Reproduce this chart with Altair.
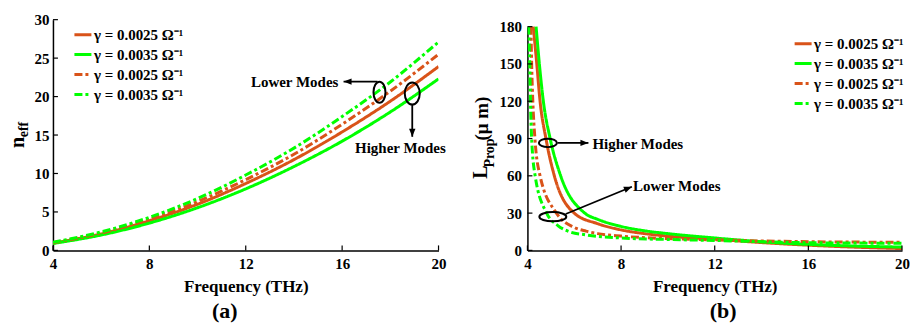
import altair as alt
import pandas as pd

ORANGE = "#D95319"
GREEN = "#00FF00"
FONT = "Times New Roman, Liberation Serif, serif"

# ---- series definitions ----
series_keys = ["s1", "s2", "s3", "s4"]
series_labels = ["γ = 0.0025 Ω⁻¹", "γ = 0.0035 Ω⁻¹", "γ = 0.0025 Ω⁻¹", "γ = 0.0035 Ω⁻¹"]
series_colors = [ORANGE, GREEN, ORANGE, GREEN]
series_dash = [[1, 0], [1, 0], [8, 3, 3, 3], [8, 3, 3, 3]]

# ---- panel (a): n_eff vs frequency ----
freq_a = [4, 6, 8, 10, 12, 14, 16, 18, 20]
neff_s1 = [0.95, 2.15, 3.85, 6.0, 8.7, 11.8, 15.4, 19.4, 23.9]
neff_s2 = [0.9, 2.0, 3.55, 5.55, 8.0, 10.9, 14.2, 18.0, 22.3]
neff_s3 = [1.0, 2.25, 4.05, 6.35, 9.2, 12.5, 16.4, 20.7, 25.5]
neff_s4 = [1.05, 2.4, 4.3, 6.75, 9.8, 13.3, 17.4, 21.9, 27.1]

# ---- panel (b): L_prop vs frequency ----
freq_b_s1 = [4.25, 4.40, 4.54, 4.79, 5.15, 6.0, 7.0, 8.0, 9.0, 10, 12, 14, 16, 18, 20]
lprop_s1 = [180, 150, 120, 90, 60, 30, 21.5, 16.5, 13.5, 11.5, 9.0, 6.3, 4.2, 2.6, 1.5]
freq_b_s2 = [4.37, 4.51, 4.68, 4.97, 5.42, 6.45, 7.0, 8.0, 9.0, 10, 12, 14, 16, 18, 20]
lprop_s2 = [180, 150, 120, 90, 60, 30, 25, 19.3, 15.8, 13.5, 10.0, 7.0, 4.8, 3.5, 2.7]
freq_b_s3 = [4.15, 4.18, 4.23, 4.32, 4.54, 5.24, 6.0, 6.5, 7.0, 8.0, 10, 12, 14, 16, 18, 20]
lprop_s3 = [180, 150, 120, 90, 60, 30, 18.5, 15.5, 13.5, 11.5, 9.5, 8.5, 7.6, 7.0, 6.7, 6.5]
freq_b_s4 = [4.05, 4.10, 4.13, 4.18, 4.33, 4.82, 5.3, 5.8, 6.5, 8.0, 10, 12, 14, 16, 18, 20]
lprop_s4 = [180, 150, 120, 90, 60, 30, 20, 15, 12.5, 10, 8.8, 8.0, 7.0, 6.2, 5.9, 5.8]

# ---- annotations (data coordinates) ----
ann_a_text = ["Lower Modes", "Higher Modes"]
ann_a_text_f = [14.03, 18.42]
ann_a_text_v = [21.86, 13.29]
ell_a_f = [17.55, 18.91]
ell_a_v = [20.56, 20.39]
arr_a_f1 = [17.47, 18.91]
arr_a_v1 = [21.95, 18.96]
arr_a_f2 = [16.06, 18.91]
arr_a_v2 = [21.95, 14.77]

ann_b_text = ["Higher Modes", "Lower Modes"]
ann_b_text_f = [8.715, 10.38]
ann_b_text_v = [85.2, 52.2]
ell_b_f = [4.874, 5.085]
ell_b_v = [86.5, 27.1]
arr_b_f1 = [5.283, 5.634]
arr_b_v1 = [86.5, 29.3]
arr_b_f2 = [6.605, 8.462]
arr_b_v2 = [86.5, 51.2]

# ---- styling helpers ----
def ellipse_path(w, h):
    if h >= w:
        rx, ry = w / h, 1.0
    else:
        rx, ry = 1.0, h / w
    return (f"M{-rx},0A{rx},{ry} 0 1,0 {rx},0A{rx},{ry} 0 1,0 {-rx},0Z",
            max(w, h) ** 2)

ARROW = "M0,0L-0.8,2L0.8,2Z"

label_expr = ""
for k, lab in zip(series_keys[:-1], series_labels[:-1]):
    label_expr += f"datum.label == '{k}' ? '{lab}' : "
label_expr += f"'{series_labels[-1]}'"


def legend(x, y):
    return alt.Legend(orient="none", legendX=x, legendY=y, title=None,
                      symbolType="stroke", symbolSize=289, symbolStrokeWidth=3,
                      labelFont=FONT, labelFontSize=15, labelFontWeight="bold",
                      labelColor="black", labelOffset=1, rowPadding=2,
                      padding=0, labelExpr=label_expr)


def build_panel(df, xvals, yvals, ydomain, yrange, w, h, ell, arr, txt,
                leg_xy, ylabpad, ytick_len):
    xs = alt.Scale(domain=[4, 20], nice=False)
    if yrange is None:
        ys = alt.Scale(domain=ydomain, nice=False)
    else:
        ys = alt.Scale(domain=ydomain, nice=False, range=yrange)
    xa = alt.Axis(values=xvals, title="Frequency (THz)", labelFlush=False,
                  labelPadding=6, titlePadding=7, labelOverlap=False)
    ya = alt.Axis(values=yvals, title=None, labelPadding=ylabpad,
                  labelOverlap=False, labelFlush=False)

    lines = alt.Chart(df).mark_line(strokeWidth=3, interpolate="monotone", clip=True).encode(
        x=alt.X("f:Q", scale=xs, axis=xa),
        y=alt.Y("v:Q", scale=ys, axis=ya),
        color=alt.Color("series:N", scale=alt.Scale(domain=series_keys, range=series_colors),
                        legend=legend(*leg_xy)),
        strokeDash=alt.StrokeDash("series:N", scale=alt.Scale(domain=series_keys, range=series_dash),
                                  legend=legend(*leg_xy)),
    )

    xt = alt.Chart(pd.DataFrame({"f": xvals})).mark_rule(color="black", strokeWidth=1.2).encode(
        x=alt.X("f:Q", scale=xs, axis=xa), y=alt.value(h), y2=alt.value(h - 5))
    yt = alt.Chart(pd.DataFrame({"v": yvals})).mark_rule(color="black", strokeWidth=1.2).encode(
        y=alt.Y("v:Q", scale=ys, axis=ya), x=alt.value(0), x2=alt.value(ytick_len))

    ell_df = pd.DataFrame({"f": ell[0], "v": ell[1],
                           "path": [ellipse_path(a, b)[0] for a, b in ell[2]],
                           "size": [ellipse_path(a, b)[1] for a, b in ell[2]]})
    ells = alt.Chart(ell_df).mark_point(filled=False, color="black", strokeWidth=2, opacity=1).encode(
        x=alt.X("f:Q", scale=xs, axis=xa), y=alt.Y("v:Q", scale=ys, axis=ya),
        shape=alt.Shape("path:N", scale=None), size=alt.Size("size:Q", scale=None))

    arr_df = pd.DataFrame({"f1": arr[0], "v1": arr[1], "f2": arr[2], "v2": arr[3],
                           "angle": arr[4]})
    shafts = alt.Chart(arr_df).mark_rule(color="black", strokeWidth=1.8).encode(
        x=alt.X("f1:Q", scale=xs, axis=xa), y=alt.Y("v1:Q", scale=ys, axis=ya),
        x2="f2:Q", y2="v2:Q")
    heads = alt.Chart(arr_df).mark_point(filled=True, color="black", opacity=1, size=64,
                                         shape=ARROW).encode(
        x=alt.X("f2:Q", scale=xs, axis=xa), y=alt.Y("v2:Q", scale=ys, axis=ya),
        angle=alt.Angle("angle:Q", scale=None))

    txt_df = pd.DataFrame({"t": txt[0], "f": txt[1], "v": txt[2]})
    texts = alt.Chart(txt_df).mark_text(font=FONT, fontSize=15, fontWeight="bold",
                                        color="black", align="center", baseline="middle").encode(
        x=alt.X("f:Q", scale=xs, axis=xa), y=alt.Y("v:Q", scale=ys, axis=ya), text="t:N")

    return alt.layer(lines, xt, yt, ells, shafts, heads, texts).properties(width=w, height=h)


def txt_mark(s, x, y, size, angle=0, style="normal"):
    return alt.Chart(pd.DataFrame({"t": [s]})).mark_text(
        font=FONT, fontSize=size, fontWeight="bold", fontStyle=style, color="black",
        align="center", baseline="middle", angle=angle).encode(
        x=alt.value(x), y=alt.value(y), text="t:N")


def long_df(freqs, vals):
    rows = []
    for k, fs, vs in zip(series_keys, freqs, vals):
        for f, v in zip(fs, vs):
            rows.append({"series": k, "f": f, "v": v})
    return pd.DataFrame(rows)


df_a = long_df([freq_a] * 4, [neff_s1, neff_s2, neff_s3, neff_s4])
df_b = long_df([freq_b_s1, freq_b_s2, freq_b_s3, freq_b_s4],
               [lprop_s1, lprop_s2, lprop_s3, lprop_s4])

W_A, H = 386, 231
W_B = 375

panel_a = build_panel(
    df_a, [4, 8, 12, 16, 20], [0, 5, 10, 15, 20, 25, 30], [0, 30], None, W_A, H,
    (ell_a_f, ell_a_v, [(12, 21), (15, 22)]),
    (arr_a_f1, arr_a_v1, arr_a_f2, arr_a_v2, [270, 180]),
    (ann_a_text, ann_a_text_f, ann_a_text_v),
    (20, 5), 4, 5)
panel_a = alt.layer(
    panel_a,
    txt_mark("n", -34.5, 123, 20, 270),
    txt_mark("eff", -29, 110, 14, 270),
    txt_mark("(a)", 172, 292, 22),
)

panel_b = build_panel(
    df_b, [4, 8, 12, 16, 20], [0, 30, 60, 90, 120, 150, 180], [0, 180], [H, 7], W_B, H,
    (ell_b_f, ell_b_v, [(18, 8.5), (27, 9.3)]),
    (arr_b_f1, arr_b_v1, arr_b_f2, arr_b_v2, [90, 68]),
    (ann_b_text, ann_b_text_f, ann_b_text_v),
    (266, 14), 6, 5)
panel_b = alt.layer(
    panel_b,
    txt_mark("L", -46.3, 152.5, 20, 270),
    txt_mark("Prop", -37.8, 133.5, 14, 270),
    txt_mark("(μ m)", -45.3, 99, 19, 270),
    txt_mark("(b)", 196, 292, 22),
)

chart = alt.hconcat(panel_a, panel_b, spacing=89, bounds="flush").resolve_scale(
    color="independent", strokeDash="independent", x="independent", y="independent"
).properties(padding={"left": 0, "top": 4.5, "right": 0, "bottom": 0}).configure_view(
    stroke=None
).configure_axis(
    domainColor="black", domainWidth=1.5, ticks=False, grid=False,
    labelFont=FONT, labelFontSize=15, labelFontWeight="bold", labelColor="black",
    titleFont=FONT, titleFontSize=17, titleFontWeight="bold", titleColor="black",
)

chart.save("out.html", embed_options={"renderer": "svg", "actions": False})
